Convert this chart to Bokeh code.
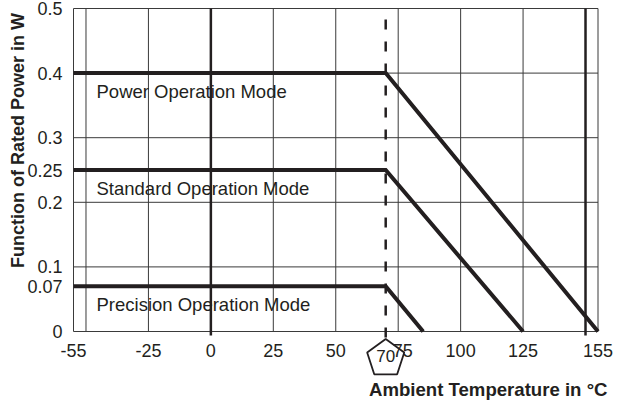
import numpy as np
from bokeh.plotting import figure
from bokeh.models import Range1d, FixedTicker, Label
from bokeh.core.properties import value
from bokeh.embed import file_html
from bokeh.resources import INLINE

# ---- data ----
x_tick_values = [-55, -25, 0, 25, 50, 75, 100, 125, 155]
x_tick_labels = ["-55", "-25", "0", "25", "50", "\u200275", "100", "125", "155"]
x_grid_values = [-55, -50, -25, 25, 50, 75, 100, 125, 155]
x_heavy_values = [0, 150]
y_tick_values = [0, 0.07, 0.1, 0.2, 0.25, 0.3, 0.4, 0.5]
y_tick_labels = ["0", "0.07", "0.1", "0.2", "0.25", "0.3", "0.4", "0.5"]
y_grid_values = [0, 0.1, 0.2, 0.3, 0.4, 0.5]

modes = ["Power Operation Mode", "Standard Operation Mode", "Precision Operation Mode"]
rated_power = [0.4, 0.25, 0.07]
t_min = -55
t_max = 155
t_knee = 70
t_zero = [155, 125, 85]
p_min, p_max = 0, 0.5

FONT = "Liberation Sans"
INK = "#231f20"
GRID = "#3a3a3a"

# ---- layout (pixel placement of the plotting box inside the canvas) ----
W, H = 620, 403
L_PX, R_PX, T_PX, B_PX = 73.0, 597.5, 8.0, 331.0
sx = (R_PX - L_PX) / (t_max - t_min)
sy = (B_PX - T_PX) / (p_max - p_min)
def px2x(px):
    return t_min + (px - L_PX) / sx
def px2y(py):
    return p_max - (py - T_PX) / sy

p = figure(width=W, height=H, output_backend="svg", toolbar_location=None,
           x_range=Range1d(px2x(0), px2x(W)), y_range=Range1d(px2y(H), px2y(0)),
           min_border_left=0, min_border_right=0, min_border_top=0, min_border_bottom=0)
p.background_fill_color = "white"
p.border_fill_color = "white"
p.outline_line_color = None
p.grid.visible = False

# axes fixed to the box edges
p.xaxis.fixed_location = p_min
p.yaxis.fixed_location = t_min
p.xaxis.ticker = FixedTicker(ticks=x_tick_values)
p.xaxis.major_label_overrides = {v: s for v, s in zip(x_tick_values, x_tick_labels)}
p.yaxis.ticker = FixedTicker(ticks=y_tick_values)
p.yaxis.major_label_overrides = {v: s for v, s in zip(y_tick_values, y_tick_labels)}
for ax in (p.xaxis, p.yaxis):
    ax.axis_line_color = None
    ax.major_tick_line_color = None
    ax.minor_tick_line_color = None
    ax.major_label_text_font = FONT
    ax.major_label_text_font_size = "18px"
    ax.major_label_text_color = INK
p.xaxis.major_label_standoff = 3
p.yaxis.major_label_standoff = 5

# grid lines bounded to the plotting box
n_x = len(x_grid_values)
p.segment(x0=x_grid_values, y0=[p_min] * n_x, x1=x_grid_values, y1=[p_max] * n_x,
          line_color=GRID, line_width=1)
n_y = len(y_grid_values)
p.segment(x0=[t_min] * n_y, y0=y_grid_values, x1=[t_max] * n_y, y1=y_grid_values,
          line_color=GRID, line_width=1)
n_h = len(x_heavy_values)
p.segment(x0=x_heavy_values, y0=[px2y(B_PX + 4)] * n_h, x1=x_heavy_values, y1=[p_max] * n_h,
          line_color=INK, line_width=2.5)

# 70 degC dashed marker
p.segment(x0=[t_knee], y0=[px2y(B_PX + 6)], x1=[t_knee], y1=[p_max],
          line_color=INK, line_width=2.5, line_dash="10 12")

# derating curves
for name, pw, tz in zip(modes, rated_power, t_zero):
    p.line([t_min, t_knee, tz], [pw, pw, 0], line_color=INK, line_width=4,
           line_join="miter")
    p.text(x=[px2x(96)], y=[pw], text=[name], text_font=value(FONT), text_font_size="18.5px",
           text_color=INK, text_baseline="middle", text_align="left", y_offset=18)

# pentagon with 70
R = 19.5
cy = px2y(358)
ang = np.pi / 2 + np.arange(5) * 2 * np.pi / 5
pxs = (t_knee + R * np.cos(ang) / sx).tolist()
pys = (cy + R * np.sin(ang) / sy).tolist()
p.patch(pxs, pys, fill_color="white", line_color=INK, line_width=1.8)
p.add_layout(Label(x=t_knee, y=cy, text="70", text_font=FONT, text_font_size="17px",
                   text_color=INK, text_align="center", text_baseline="middle", y_offset=3))

# axis titles
p.add_layout(Label(x=px2x(17), y=px2y(140), text="Function of Rated Power in W",
                   angle=np.pi / 2, text_font=FONT, text_font_size="18px",
                   text_font_style="bold", text_color=INK,
                   text_align="center", text_baseline="middle"))
p.add_layout(Label(x=px2x(607), y=px2y(388.5), text="Ambient Temperature in °C",
                   text_font=FONT, text_font_size="18.6px", text_font_style="bold",
                   text_color=INK, text_align="right", text_baseline="middle"))

open("out.html", "w").write(file_html(p, INLINE))
